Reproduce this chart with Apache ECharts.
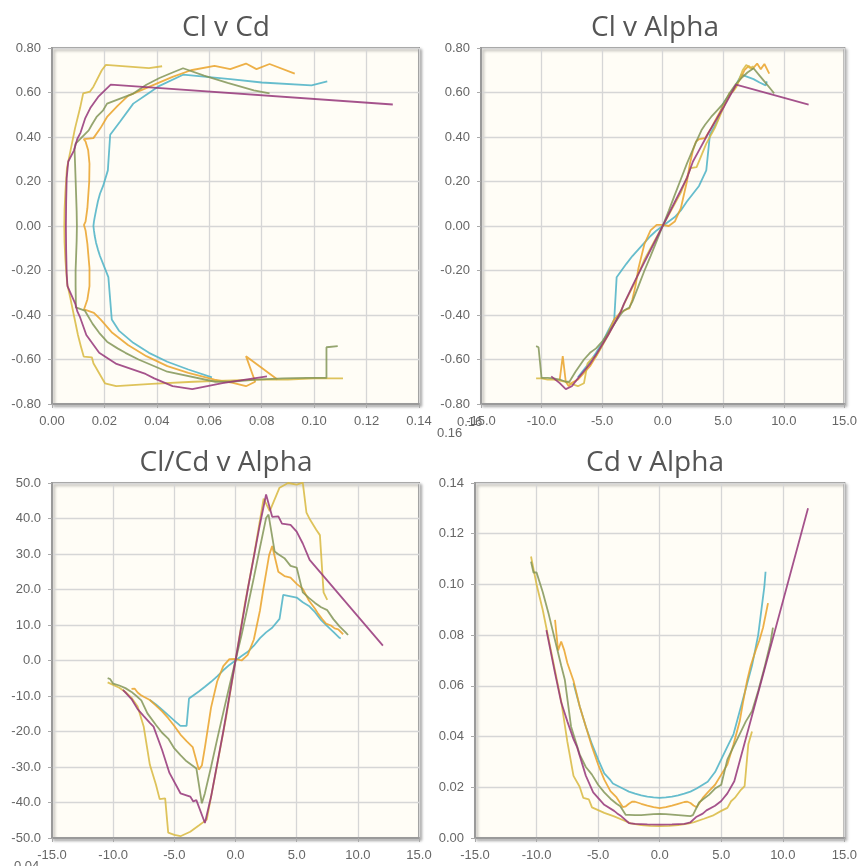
<!DOCTYPE html>
<html>
<head>
<meta charset="utf-8">
<title>Airfoil polars</title>
<script src="https://cdn.jsdelivr.net/npm/echarts/dist/echarts.min.js"></script>
<style>
  html, body { margin: 0; padding: 0; background: #ffffff; }
  #chart { width: 860px; height: 866px; }
</style>
</head>
<body>
<div id="chart"></div>
<script>
// ---- polar data: angle of attack (deg), lift and drag coefficients ----
const alphaA = [-7, -6.5, -6, -5.5, -5, -4.5, -4, -3.8, -3, -2.5, -2, -1.5, -1, -0.5, 0, 0.5, 1, 1.5, 2, 2.5, 3, 3.6, 3.9, 4.5, 5, 5.5, 6, 6.5, 7, 7.5, 8, 8.5, 8.6];
const clA    = [-0.68, -0.645, -0.61, -0.57, -0.525, -0.47, -0.42, -0.23, -0.17, -0.135, -0.105, -0.075, -0.045, -0.02, 0, 0.02, 0.04, 0.07, 0.11, 0.145, 0.18, 0.25, 0.41, 0.47, 0.55, 0.59, 0.63, 0.68, 0.67, 0.66, 0.645, 0.632, 0.65];
const cdA    = [0.061, 0.052, 0.044, 0.037, 0.031, 0.0255, 0.0228, 0.0215, 0.0195, 0.0183, 0.0175, 0.0168, 0.0163, 0.016, 0.0158, 0.016, 0.0163, 0.0168, 0.0175, 0.0183, 0.0195, 0.0213, 0.0222, 0.026, 0.031, 0.036, 0.041, 0.05, 0.059, 0.068, 0.08, 0.099, 0.105];

const alphaB = [-8.5, -8.25, -8, -7.75, -7.5, -7, -6.5, -6, -5.5, -5, -4.5, -4, -3.5, -3, -2.75, -2.5, -2.25, -2, -1.5, -1, -0.5, 0, 0.5, 1, 1.5, 2, 2.25, 2.5, 2.75, 3, 3.5, 4, 4.5, 5, 5.5, 6, 6.5, 6.75, 7.1, 7.4, 7.8, 8.1, 8.4, 8.8];
const clB    = [-0.69, -0.585, -0.70, -0.72, -0.705, -0.69, -0.66, -0.63, -0.585, -0.535, -0.48, -0.42, -0.39, -0.375, -0.37, -0.33, -0.27, -0.19, -0.08, -0.02, 0.005, 0.005, 0.0, 0.02, 0.08, 0.2, 0.28, 0.34, 0.38, 0.39, 0.395, 0.44, 0.49, 0.54, 0.585, 0.625, 0.67, 0.70, 0.72, 0.705, 0.73, 0.705, 0.728, 0.685];
const cdB    = [0.086, 0.074, 0.0775, 0.074, 0.069, 0.062, 0.052, 0.044, 0.036, 0.029, 0.023, 0.0185, 0.016, 0.0122, 0.0125, 0.0135, 0.0143, 0.0143, 0.0135, 0.0128, 0.0122, 0.0118, 0.0122, 0.0128, 0.0135, 0.0142, 0.0143, 0.0138, 0.0128, 0.0121, 0.0158, 0.0185, 0.021, 0.025, 0.029, 0.037, 0.046, 0.053, 0.062, 0.068, 0.074, 0.078, 0.083, 0.0926];

const alphaC = [-10.45, -10, -9.5, -9, -8.5, -8, -7.5, -7, -6.5, -6.2, -5.75, -5.5, -5, -4.5, -3.7, -3, -2.35, -1.5, -0.75, 0, 0.75, 1.5, 2.3, 2.8, 3.6, 4.3, 5, 5.5, 5.8, 6.1, 6.6, 6.9, 7.2, 7.5];
const clC    = [-0.685, -0.685, -0.69, -0.69, -0.695, -0.70, -0.71, -0.72, -0.707, -0.617, -0.59, -0.587, -0.54, -0.49, -0.41, -0.33, -0.26, -0.15, -0.075, 0, 0.075, 0.15, 0.26, 0.265, 0.37, 0.44, 0.53, 0.596, 0.604, 0.626, 0.70, 0.724, 0.71, 0.718];
const cdC    = [0.111, 0.100, 0.090, 0.078, 0.066, 0.054, 0.038, 0.0245, 0.0202, 0.0158, 0.0152, 0.0121, 0.011, 0.0099, 0.0085, 0.0071, 0.0058, 0.0051, 0.0048, 0.0047, 0.0048, 0.0051, 0.0057, 0.0063, 0.0076, 0.0088, 0.0107, 0.0119, 0.0145, 0.0158, 0.019, 0.0205, 0.037, 0.042];

const alphaD = [-10.45, -10.25, -10, -9.5, -9, -8.5, -8, -7.7, -7.2, -6.5, -6, -5.5, -5, -4.5, -4, -3.5, -3.2, -2.75, -2.5, -2, -1.5, -1, -0.5, 0, 0.5, 1, 1.5, 2, 2.5, 2.7, 3.2, 3.5, 4, 4.5, 5, 5.5, 6, 6.5, 7, 7.5, 8, 8.5, 9, 9.2];
const clD    = [-0.54, -0.545, -0.683, -0.683, -0.685, -0.69, -0.70, -0.70, -0.655, -0.60, -0.57, -0.55, -0.52, -0.48, -0.44, -0.40, -0.38, -0.366, -0.34, -0.27, -0.2, -0.135, -0.068, 0, 0.068, 0.14, 0.21, 0.28, 0.345, 0.37, 0.43, 0.455, 0.49, 0.52, 0.55, 0.595, 0.635, 0.665, 0.69, 0.709, 0.676, 0.643, 0.61, 0.596];
const cdD    = [0.109, 0.1047, 0.1047, 0.097, 0.088, 0.078, 0.068, 0.0623, 0.044, 0.033, 0.028, 0.025, 0.021, 0.018, 0.0155, 0.0135, 0.0125, 0.0091, 0.0091, 0.009, 0.009, 0.0092, 0.0094, 0.0095, 0.0094, 0.0092, 0.009, 0.0088, 0.0086, 0.009, 0.014, 0.0152, 0.017, 0.0195, 0.021, 0.031, 0.036, 0.041, 0.046, 0.050, 0.058, 0.067, 0.077, 0.083];

const alphaE = [-9.2, -8.5, -8, -7.5, -7, -6.7, -6, -5.4, -4.5, -3.7, -3.45, -3.2, -2.5, -2, -1, 0, 1, 2, 2.5, 3, 3.5, 3.8, 4.5, 5, 5.5, 6.06, 12.05];
const clE    = [-0.676, -0.706, -0.733, -0.72, -0.685, -0.665, -0.62, -0.57, -0.49, -0.41, -0.385, -0.35, -0.27, -0.215, -0.108, 0, 0.108, 0.215, 0.29, 0.34, 0.39, 0.42, 0.485, 0.53, 0.58, 0.635, 0.546];
const cdE    = [0.082, 0.065, 0.0535, 0.046, 0.039, 0.0357, 0.0246, 0.018, 0.0131, 0.0107, 0.0097, 0.0089, 0.0059, 0.0056, 0.0054, 0.0053, 0.0054, 0.0056, 0.0062, 0.0084, 0.0096, 0.0109, 0.0127, 0.0146, 0.0176, 0.0224, 0.130];

const lineColors = ['#4bb2c5', '#eaa228', '#d8b83f', '#839557', '#953579'];

// ---- axis ranges and tick steps ----
const clRange    = { min: -0.8, max: 0.8, step: 0.2 };
const cdRange    = { min: 0, max: 0.14, step: 0.02 };
const alphaRange = { min: -15, max: 15, step: 5 };
const ldRange    = { min: -50, max: 50, step: 10 };

const chartTitles = ['Cl v Cd', 'Cl v Alpha', 'Cl/Cd v Alpha', 'Cd v Alpha'];

// ---- build option ----
const polars = [
  { alpha: alphaA, cl: clA, cd: cdA },
  { alpha: alphaB, cl: clB, cd: cdB },
  { alpha: alphaC, cl: clC, cd: cdC },
  { alpha: alphaD, cl: clD, cd: cdD },
  { alpha: alphaE, cl: clE, cd: cdE }
];

const labelFont = 'Liberation Sans, Arial, sans-serif';

const grids = [
  { left: 52,  top: 48,  width: 367, height: 356 },
  { left: 481, top: 48,  width: 367, height: 356 },
  { left: 52,  top: 483, width: 367, height: 355 },
  { left: 475, top: 483, width: 373, height: 355 }
].map(g => Object.assign(g, {
  show: true,
  backgroundColor: '#fffdf6',
  borderColor: '#9a9a9a',
  borderWidth: 2,
  shadowColor: 'rgba(0,0,0,0.28)',
  shadowBlur: 3,
  shadowOffsetX: 2,
  shadowOffsetY: 2
}));

function axis(gridIndex, range, digits, isX) {
  return {
    type: 'value',
    gridIndex: gridIndex,
    min: range.min,
    max: range.max,
    interval: range.step,
    axisLine: { show: true, onZero: false, lineStyle: { color: '#9a9a9a', width: 2 } },
    axisTick: { show: true, length: 4, lineStyle: { color: '#aaaaaa', width: 1 } },
    splitLine: { show: true, lineStyle: { color: '#d6d6d6', width: 1.3 } },
    axisLabel: {
      color: '#666666',
      fontSize: 13,
      fontFamily: labelFont,
      margin: isX ? 11 : 11,
      showMinLabel: true,
      showMaxLabel: true,
      formatter: v => Number(v).toFixed(digits)
    }
  };
}

const xAxes = [
  axis(0, cdRange, 2, true),
  axis(1, alphaRange, 1, true),
  axis(2, alphaRange, 1, true),
  axis(3, alphaRange, 1, true)
];
const yAxes = [
  axis(0, clRange, 2, false),
  axis(1, clRange, 2, false),
  axis(2, ldRange, 1, false),
  axis(3, cdRange, 2, false)
];

const series = [];
polars.forEach((p, k) => {
  const ratio = p.cl.map((v, i) => v / p.cd[i]);
  const sets = [
    p.cd.map((v, i) => [v, p.cl[i]]),
    p.alpha.map((a, i) => [a, p.cl[i]]),
    p.alpha.map((a, i) => [a, ratio[i]]),
    p.alpha.map((a, i) => [a, p.cd[i]])
  ];
  sets.forEach((data, g) => {
    series.push({
      type: 'line',
      xAxisIndex: g,
      yAxisIndex: g,
      data: data,
      showSymbol: false,
      symbol: 'none',
      smooth: false,
      clip: true,
      lineStyle: { color: lineColors[k], width: 1.8, opacity: 0.85 },
      emphasis: { disabled: true }
    });
  });
});

const titleCenters = [[221, 9], [650, 9], [221, 444], [650, 444]];
const titles = chartTitles.map((t, i) => ({
  text: t,
  left: titleCenters[i][0],
  top: titleCenters[i][1],
  textAlign: 'center',
  textStyle: { fontFamily: 'Open Sans, sans-serif', fontSize: 28, fontWeight: 'normal', color: '#555555' }
}));

const option = {
  animation: false,
  backgroundColor: '#ffffff',
  title: titles,
  grid: grids,
  xAxis: xAxes,
  yAxis: yAxes,
  series: series,
  graphic: [
    { type: 'text', left: 457, top: 416, style: { text: '0.16', fill: '#666666', font: '13px ' + labelFont } },
    { type: 'text', left: 437, top: 427, style: { text: '0.16', fill: '#666666', font: '13px ' + labelFont } },
    { type: 'text', left: 14, top: 860, style: { text: '0.04', fill: '#666666', font: '13px ' + labelFont } }
  ]
};

const chart = echarts.init(document.getElementById('chart'), null, { renderer: 'canvas' });
chart.setOption(option);
</script>
</body>
</html>
